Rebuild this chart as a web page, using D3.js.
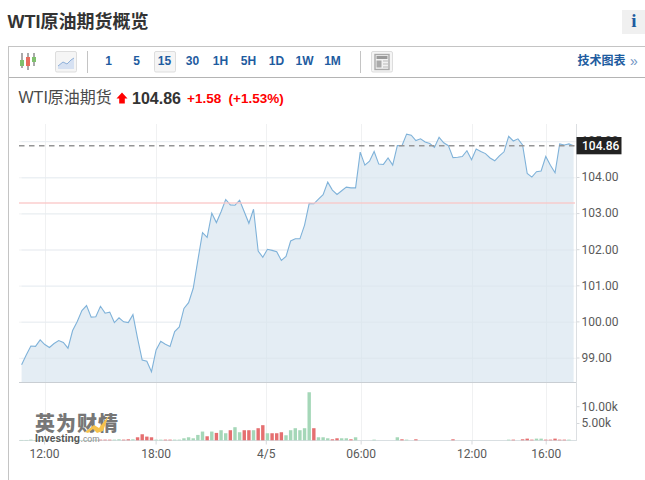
<!DOCTYPE html>
<html><head><meta charset="utf-8">
<script src="https://cdn.jsdelivr.net/npm/d3@7/dist/d3.min.js"></script>
<style>
html,body{margin:0;padding:0;background:#fff;overflow:hidden}
svg{display:block}
text{font-family:"Liberation Sans","Noto Sans CJK SC",sans-serif}
.ax text{font-family:Roboto,sans-serif;font-size:12px;fill:#5a5a5a}
</style></head><body>
<svg id="c" width="645" height="480"></svg>
<script>
const prices=[98.82,99.09,99.34,99.33,99.51,99.38,99.30,99.41,99.49,99.44,99.28,99.77,100.02,100.32,100.46,100.14,100.15,100.44,100.25,100.28,
99.99,100.12,100.01,99.99,100.21,99.55,98.95,98.92,98.63,99.23,99.47,99.39,99.33,99.74,99.87,100.38,100.54,100.94,101.72,102.48,
102.35,103.02,102.76,103.06,103.40,103.25,103.24,103.38,103.06,102.74,103.13,101.97,101.80,102.02,101.99,101.95,101.71,101.82,102.25,102.31,
102.31,102.69,103.29,103.28,103.41,103.53,103.88,103.66,103.54,103.64,103.74,103.72,103.72,104.71,104.35,104.46,104.73,104.38,104.37,104.55,
104.35,104.89,104.89,105.21,105.18,105.03,105.08,104.99,104.95,104.84,105.12,104.97,104.89,104.56,104.57,104.59,104.75,104.50,104.80,104.73,
104.67,104.55,104.47,104.61,104.72,105.15,105.02,105.08,104.91,104.12,104.02,104.17,104.19,104.59,104.35,104.14,104.94,104.91,104.94,104.89];
const volumes=[.1,.1,.2,.1,.1,.1,.1,.1,.1,.1,.1,.1,.1,.1,.1,.1,.2,.2,.2,.2,.2,.3,.2,.3,.3,
.9,1.8,1.1,.9,.2,.2,.2,.2,.2,.2,.6,.9,.6,1.6,2.6,1.2,2.6,2.2,3.0,2.1,3.0,3.9,2.4,3.0,3.0,3.0,3.6,4.5,2.1,2.1,2.1,2.4,1.5,3.0,3.6,3.0,3.6,14.3,3.6,.9,.9,.6,.3,.6,.6,.6,.3,.9,
0,0,0,.2,0,0,0,0,.9,.3,.2,0,.3,0,0,0,0,0,0,0,.3,0,0,0,0,0,0,0,0,0,0,0,.2,.2,0,.3,.5,.2,.5,.5,.2,.2,.5,.2,.2,.2,0];
const volumeUp=[1,1,1,1,1,1,1,1,1,1,1,1,1,1,1,1,1,0,0,0,1,1,0,0,1,
0,0,0,0,1,1,0,0,1,1,1,1,1,1,1,0,1,0,1,1,0,1,1,0,0,1,0,0,1,0,0,0,1,1,1,1,1,1,0,1,1,1,0,0,1,1,0,1,
1,1,1,1,1,1,1,1,1,0,1,0,0,1,1,1,1,1,1,1,0,1,1,1,1,1,1,1,1,1,1,1,1,0,1,0,0,0,1,1,0,0,0,0,0,1,1];
const yTicks=[99,100,101,102,103,104,105];
const volTicks=[5,10];
const xTickIndex=[4.95,29,52.75,73.2,97.1,113.1];
const xTickLabels=["12:00","18:00","4/5","06:00","12:00","16:00"];
const intervals=["1","5","15","30","1H","5H","1D","1W","1M"];
const prevClose=103.3, lastLevel=104.89;
const title="WTI原油期货概览", name="WTI原油期货", lastText="104.86", chg="+1.58", chgPct="(+1.53%)", techLink="技术图表";

const svg=d3.select("#c");
const x=d3.scaleLinear().domain([0,119]).range([21.6,573.6]);
const y=d3.scaleLinear().domain([99,105]).range([358.3,141.7]);
const yV=d3.scaleLinear().domain([0,10]).range([440.3,406.7]);
const base=382.3;

const line=(x1,y1,x2,y2,c,w=1)=>svg.append("line").attr("x1",x1).attr("y1",y1).attr("x2",x2).attr("y2",y2).attr("stroke",c).attr("stroke-width",w);
line(8.5,46,8.5,480,"#c4c4c4");
line(8,46.5,645,46.5,"#c4c4c4");
line(9,77.5,645,77.5,"#b4b4b4");
line(87.5,51,87.5,73,"#c4c4c4");
line(360.5,51,360.5,73,"#c4c4c4");

svg.append("text").attr("x",7.5).attr("y",28).attr("font-size",18).attr("font-weight",700).attr("fill",'#333').text(title);
svg.append("rect").attr("x",622).attr("y",10).attr("width",23).attr("height",24).attr("fill","#f0f0f0");
svg.append("text").attr("x",634).attr("y",27).attr("text-anchor","middle").attr("font-size",19).attr("font-weight",700).style("font-family","'Liberation Serif',serif").attr("fill","#1e5ca0").text("i");

const btn=(bx,w=21)=>svg.append("rect").attr("x",bx+.5).attr("y",51.5).attr("width",w).attr("height",20.5).attr("rx",1.5).attr("fill","#f5f5f5").attr("stroke","#ddd");
btn(55);btn(154,21);btn(371);
const bx=d3.scalePoint().domain(intervals).range([108.5,332.5]);
intervals.forEach(t=>svg.append("text").attr("x",bx(t)).attr("y",65).attr("text-anchor","middle").attr("font-size",12).attr("font-weight",700).attr("fill","#1e5ca0").text(t));
[[20,"#7fc06d",53,68,60,66],[26,"#e86a5c",53,70,57,66],[32,"#7fc06d",53,66,57,62]].forEach(c=>{
 line(c[0]+2,c[2],c[0]+2,c[3],"#555");
 svg.append("rect").attr("x",c[0]).attr("y",c[4]).attr("width",4).attr("height",c[5]-c[4]).attr("fill",c[1]);
});
const ic=[[58,69],[58,66],[63,62],[67,64],[71,60],[74,58],[74,69]];
svg.append("path").attr("d",d3.line()(ic)).attr("fill","#d6e1f2");
svg.append("path").attr("d",d3.line()(ic.slice(1,6))).attr("fill","none").attr("stroke","#8fb0d9");
svg.append("rect").attr("x",375).attr("y",54.5).attr("width",14).attr("height",15).attr("fill","#f2f2f2").attr("stroke","#aaa").attr("stroke-width",1.4);
svg.append("rect").attr("x",376.5).attr("y",56).attr("width",11).attr("height",3).attr("fill","#999");
svg.append("rect").attr("x",376.5).attr("y",60.5).attr("width",5).attr("height",7).attr("fill","#aaa");
[61,64,67].forEach(v=>line(383,v,388,v,"#bbb"));
svg.append("text").attr("x",577.5).attr("y",65).attr("font-size",12).attr("font-weight",700).attr("fill","#1e5ca0").text(techLink);
svg.append("text").attr("x",630).attr("y",65.5).attr("font-size",14).attr("fill","#6f94c4").text("»");

svg.append("text").attr("x",18.5).attr("y",103).attr("font-size",16).attr("fill","#4a4a4a").text(name);
svg.append("path").attr("d","M122,92.5L127.5,98.5H124.8V103.5H119.2V98.5H116.5Z").attr("fill","#f00");
svg.append("text").attr("x",132).attr("y",103.5).attr("font-size",16).attr("font-weight",700).attr("fill","#333").text(lastText);
svg.append("text").attr("x",187).attr("y",102.5).attr("font-size",13.5).attr("font-weight",700).attr("fill","#f00").text(chg);
svg.append("text").attr("x",228.5).attr("y",102.5).attr("font-size",13.5).attr("font-weight",700).attr("fill","#f00").text(chgPct);

yTicks.forEach(t=>line(19,y(t),576,y(t),"#f2f3f4"));
xTickIndex.forEach(t=>line(Math.round(x(t))+.5,124,Math.round(x(t))+.5,440,"#f0f1f2"));

const idx=d3.range(prices.length);
svg.append("path").attr("d",d3.area().x(i=>x(i)).y0(base).y1(i=>y(prices[i]))(idx)).attr("fill","#d3e2ee").attr("fill-opacity",.62);
yTicks.forEach(t=>line(21.6,y(t),574,y(t),"#dfe8ef").attr("stroke-opacity",.55));
svg.append("path").attr("d",d3.line().x(i=>x(i)).y(i=>y(prices[i]))(idx)).attr("fill","none").attr("stroke","#7fb2d9").attr("stroke-width",1.1);

line(19,y(prevClose),575,y(prevClose),"#f9c4c4",1.5).attr("stroke-opacity",.85);
line(19,y(lastLevel),575,y(lastLevel),"#959595",1.5).attr("stroke-dasharray","5.5 4.5");

line(19,base+.2,576,base+.2,"#c9ced3",1);
line(19,440.5,576,440.5,"#d9dfe2",1);

const gy=svg.append("g").attr("class","ax").attr("transform","translate(576.5,-0.8)").call(d3.axisRight(y).tickValues(yTicks).tickFormat(d3.format(".2f")).tickSize(3).tickPadding(2));
const gv=svg.append("g").attr("class","ax").attr("transform","translate(576.5,-0.5)").call(d3.axisRight(yV).tickValues(volTicks).tickFormat(d=>d3.format(".2f")(d)+"k").tickSize(3).tickPadding(2));
[gy,gv].forEach(g=>{g.select(".domain").remove();g.selectAll("line").attr("stroke","#d5d8db");});
line(576.5,124,576.5,441,"#dcdfe2");

const gx=svg.append("g").attr("class","ax").attr("transform","translate(-0.5,440.5)").call(d3.axisBottom(x).tickValues(xTickIndex).tickFormat((d,i)=>xTickLabels[i]).tickSize(4).tickPadding(5));
gx.select(".domain").remove();gx.selectAll("line").attr("stroke","#d5d8db");

svg.append("rect").attr("x",576.5).attr("y",137).attr("width",45).attr("height",17.3).attr("fill","#222");
svg.append("text").attr("x",582).attr("y",150).attr("font-size",12).attr("font-weight",500).style("font-family","Roboto,sans-serif").attr("fill","#fff").text(lastText);

svg.append("g").selectAll("rect").data(volumes).join("rect")
 .attr("x",(d,i)=>x(i)-1.7).attr("width",3.4)
 .attr("y",d=>yV(d)).attr("height",d=>440.3-yV(d))
 .attr("fill",(d,i)=>volumeUp[i]?"#a5d7b8":"#e56f70");

const wm=svg.append("g");
wm.append("text").attr("x",35).attr("y",430.5).attr("font-size",20).attr("letter-spacing",1).attr("font-weight",900).attr("fill","#777").style("font-family","'Noto Sans CJK SC'").text("英为财情");
wm.append("path").attr("d","M85,432L94,425L99,428L109,415L103,431L97,433L93,429L88,433Z").attr("fill","#f5c24c");
wm.append("text").attr("x",35).attr("y",442).attr("font-size",11.5).attr("font-weight",700).attr("fill","#555").attr("textLength",45).attr("lengthAdjust","spacingAndGlyphs").text("Investing");
wm.append("text").attr("x",80.5).attr("y",442).attr("font-size",9.5).attr("fill","#8a8a8a").attr("textLength",19).attr("lengthAdjust","spacingAndGlyphs").text(".com");
</script>
</body></html>
